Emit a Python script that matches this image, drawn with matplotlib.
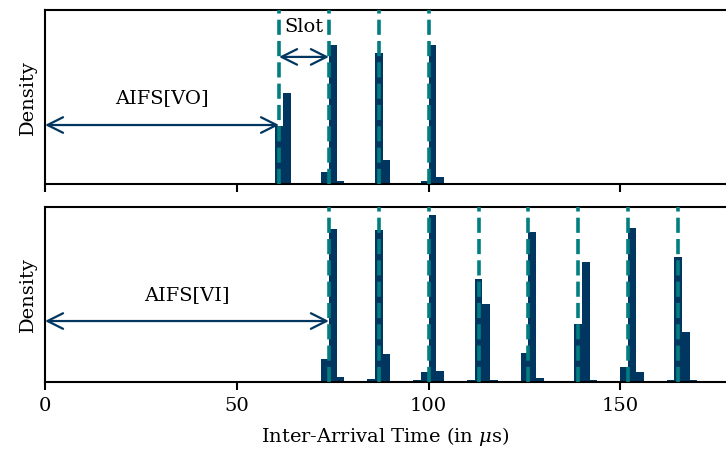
import numpy as np
import matplotlib
matplotlib.use("Agg")
import matplotlib.pyplot as plt

plt.rcParams['font.family'] = ['DejaVu Serif']
plt.rcParams['mathtext.fontset'] = 'dejavuserif'

navy = '#003660'
teal = '#027d80'

# histogram bins (left edges, 2 us wide) and densities
vo_bins = [60, 62, 72, 74, 76, 86, 88, 98, 100, 102]
vo_density = [0.048, 0.075, 0.010, 0.114, 0.003, 0.108, 0.020, 0.003, 0.114, 0.006]
vo_slots = [61, 74, 87, 100]

vi_bins = [72, 74, 76, 84, 86, 88, 96, 98, 100, 102,
           110, 112, 114, 116, 124, 126, 128, 138, 140, 142,
           150, 152, 154, 162, 164, 166, 168]
vi_density = [0.0077, 0.0526, 0.0016, 0.0009, 0.0523, 0.0095, 0.0006, 0.0033, 0.0574, 0.0037,
              0.0006, 0.0354, 0.0268, 0.0006, 0.0099, 0.0516, 0.0013, 0.0199, 0.0412, 0.0006,
              0.0051, 0.0529, 0.0033, 0.0006, 0.0430, 0.0171, 0.0006]
vi_slots = [74, 87, 100, 113, 126, 139, 152, 165]

bin_w = 2
fs = 14

fig = plt.figure(figsize=(7.26, 4.51), dpi=100)
ax1 = fig.add_axes([0.062, 0.591, 0.938, 0.387])
ax2 = fig.add_axes([0.062, 0.1537, 0.938, 0.388], sharex=ax1)

for ax, bins, dens, slots in [(ax1, vo_bins, vo_density, vo_slots),
                              (ax2, vi_bins, vi_density, vi_slots)]:
    ax.bar(bins, dens, width=bin_w, align='edge', color=navy, zorder=2)
    for s in slots:
        ax.axvline(s, color=teal, lw=2.6, ls=(0, (4.2, 1.7)), zorder=3)
    ax.set_yticks([])
    ax.set_ylabel('Density', fontsize=fs, labelpad=6)
    ax.spines['right'].set_visible(False)
    for sp in ['left', 'top', 'bottom']:
        ax.spines[sp].set_linewidth(1.5)
    ax.tick_params(axis='x', length=6, width=1.5, labelsize=fs, pad=5)

ax1.set_xlim(0, 177.5)
ax1.set_ylim(0, 0.143)
ax2.set_ylim(0, 0.0603)
ax1.tick_params(axis='x', labelbottom=False)
ax2.set_xticks([0, 50, 100, 150])
ax2.set_xlabel(r'Inter-Arrival Time (in $\mu$s)', fontsize=fs, labelpad=7)

arrow = dict(arrowstyle='<->', color=navy, lw=1.6, mutation_scale=28,
             shrinkA=0, shrinkB=0)

# AIFS and slot spans
ax1.annotate('', xy=(0, 0.0487), xytext=(vo_slots[0], 0.0487), arrowprops=arrow)
ax1.text(vo_slots[0] / 2, 0.0708, 'AIFS[VO]', ha='center', va='center', fontsize=fs)
ax1.annotate('', xy=(vo_slots[0], 0.1045), xytext=(vo_slots[1], 0.1045), arrowprops=arrow)
ax1.text((vo_slots[0] + vo_slots[1]) / 2, 0.129, 'Slot', ha='center', va='center',
         fontsize=fs, bbox=dict(fc='white', ec='none', pad=1))

ax2.annotate('', xy=(0, 0.0209), xytext=(vi_slots[0], 0.0209), arrowprops=arrow)
ax2.text(vi_slots[0] / 2, 0.0299, 'AIFS[VI]', ha='center', va='center', fontsize=fs)

fig.savefig('out.png', dpi=100)
